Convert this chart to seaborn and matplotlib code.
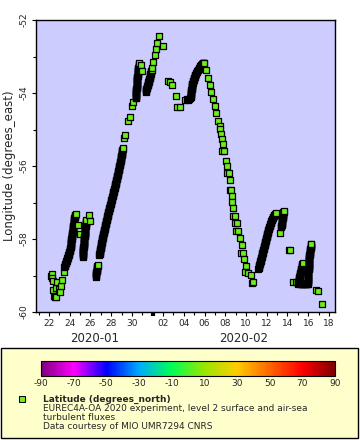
import numpy as np
import pandas as pd
import matplotlib
matplotlib.use("Agg")
import matplotlib.pyplot as plt
import matplotlib.dates as mdates
import matplotlib.transforms as mtransforms
from matplotlib.colors import LinearSegmentedColormap, Normalize
from matplotlib.cm import ScalarMappable
from matplotlib.patches import Rectangle
import seaborn as sns

# ship track, (day of January 2020 (32 = Feb 1), longitude degrees_east), in time order
track_jan22 = [
    (22.18, -59.00), (22.26, -58.96), (22.30, -59.08), (22.36, -59.15), (22.42, -59.40), (22.48, -59.55),
    (22.55, -59.60), (22.66, -59.58), (22.72, -59.35), (22.80, -59.17), (22.95, -59.38), (23.06, -59.44),
    (23.16, -59.28), (23.25, -59.12), (23.42, -58.90),
    (23.49, -58.77), (23.51, -58.75), (23.54, -58.73), (23.56, -58.71), (23.58, -58.69), (23.61, -58.67),
    (23.63, -58.65), (23.65, -58.63), (23.68, -58.61), (23.70, -58.59), (23.72, -58.57), (23.75, -58.55),
    (23.77, -58.53), (23.79, -58.51), (23.82, -58.49), (23.84, -58.47), (23.86, -58.45), (23.89, -58.43),
    (23.91, -58.41), (23.93, -58.39), (23.96, -58.37), (23.98, -58.35), (24.01, -58.33), (24.03, -58.31),
    (24.05, -58.29), (24.06, -58.27), (24.07, -58.25), (24.08, -58.23), (24.09, -58.21), (24.10, -58.19),
    (24.10, -58.17), (24.11, -58.15), (24.12, -58.13), (24.13, -58.11), (24.14, -58.09), (24.15, -58.07),
    (24.16, -58.05), (24.17, -58.03), (24.17, -58.01), (24.18, -57.99), (24.19, -57.97), (24.20, -57.95),
    (24.21, -57.93), (24.22, -57.91), (24.23, -57.89), (24.24, -57.87), (24.24, -57.85),
    (24.26, -57.83), (24.27, -57.81), (24.28, -57.79), (24.29, -57.77), (24.30, -57.75), (24.31, -57.73),
    (24.32, -57.71), (24.33, -57.69), (24.34, -57.67), (24.35, -57.65), (24.36, -57.63), (24.37, -57.61),
    (24.38, -57.59), (24.39, -57.57), (24.40, -57.55), (24.41, -57.53), (24.42, -57.51), (24.43, -57.49),
    (24.44, -57.47), (24.45, -57.45), (24.46, -57.43), (24.47, -57.41), (24.48, -57.39), (24.50, -57.37),
    (24.52, -57.35), (24.55, -57.33), (24.57, -57.32),
    (24.80, -57.62), (24.96, -57.86),
]

track_jan25 = [
    (25.25, -58.49), (25.26, -58.47), (25.26, -58.45), (25.27, -58.43), (25.28, -58.41), (25.28, -58.39),
    (25.29, -58.37), (25.29, -58.35), (25.30, -58.33), (25.31, -58.31), (25.31, -58.29), (25.32, -58.27),
    (25.33, -58.25), (25.33, -58.23), (25.34, -58.21), (25.35, -58.19), (25.35, -58.17), (25.36, -58.15),
    (25.37, -58.13), (25.37, -58.11), (25.38, -58.09), (25.38, -58.07), (25.39, -58.05), (25.40, -58.03),
    (25.40, -58.01), (25.41, -57.99), (25.42, -57.97), (25.42, -57.95), (25.43, -57.93), (25.44, -57.91),
    (25.44, -57.89), (25.45, -57.87), (25.45, -57.85), (25.46, -57.83), (25.47, -57.81), (25.47, -57.79),
    (25.48, -57.77), (25.49, -57.75), (25.49, -57.73), (25.50, -57.71), (25.51, -57.69), (25.51, -57.67),
    (25.52, -57.65), (25.53, -57.63), (25.53, -57.61), (25.54, -57.59), (25.54, -57.57), (25.55, -57.55),
    (25.56, -57.53), (25.56, -57.51), (25.57, -57.49),
    (25.86, -57.34), (25.95, -57.50),
]

track_jan26 = [
    (26.50, -59.03), (26.51, -59.01), (26.53, -58.99), (26.54, -58.97), (26.55, -58.95), (26.56, -58.93),
    (26.58, -58.91), (26.59, -58.89), (26.60, -58.87), (26.61, -58.85), (26.63, -58.83), (26.64, -58.81),
    (26.65, -58.79), (26.66, -58.77), (26.68, -58.75), (26.69, -58.73), (26.70, -58.71),
    (26.85, -58.44), (26.86, -58.42), (26.88, -58.40), (26.89, -58.38), (26.90, -58.36), (26.91, -58.34),
    (26.93, -58.32), (26.94, -58.30), (26.95, -58.28), (26.97, -58.26), (26.98, -58.24), (26.99, -58.22),
    (27.00, -58.20), (27.02, -58.18), (27.03, -58.16), (27.04, -58.14), (27.05, -58.12), (27.07, -58.10),
    (27.08, -58.08), (27.10, -58.06), (27.11, -58.04), (27.13, -58.02), (27.14, -58.00), (27.16, -57.98),
    (27.17, -57.96), (27.19, -57.94), (27.20, -57.92), (27.22, -57.90), (27.24, -57.88), (27.25, -57.86),
    (27.27, -57.84), (27.28, -57.82), (27.30, -57.80), (27.31, -57.78), (27.33, -57.76), (27.34, -57.74),
    (27.36, -57.72), (27.37, -57.70),
    (27.39, -57.68), (27.41, -57.66), (27.42, -57.64), (27.44, -57.62), (27.46, -57.60), (27.47, -57.58),
    (27.49, -57.56), (27.51, -57.54), (27.52, -57.52), (27.54, -57.50), (27.56, -57.48), (27.57, -57.46),
    (27.59, -57.44), (27.61, -57.42), (27.62, -57.40), (27.64, -57.38), (27.66, -57.36), (27.67, -57.34),
    (27.69, -57.32), (27.71, -57.30), (27.72, -57.28), (27.74, -57.26), (27.76, -57.24), (27.77, -57.22),
    (27.79, -57.20), (27.81, -57.18), (27.83, -57.16), (27.84, -57.14), (27.86, -57.12), (27.88, -57.10),
    (27.90, -57.08), (27.92, -57.06), (27.94, -57.04), (27.95, -57.02), (27.97, -57.00), (27.99, -56.98),
    (28.01, -56.96), (28.03, -56.94), (28.05, -56.92), (28.06, -56.90), (28.08, -56.88), (28.10, -56.86),
    (28.12, -56.84), (28.14, -56.82), (28.16, -56.80), (28.17, -56.78),
    (28.19, -56.76), (28.21, -56.74), (28.22, -56.72), (28.24, -56.70), (28.26, -56.68), (28.27, -56.66),
    (28.29, -56.64), (28.31, -56.62), (28.32, -56.60), (28.34, -56.58), (28.36, -56.56), (28.37, -56.54),
    (28.39, -56.52), (28.41, -56.50), (28.42, -56.48), (28.44, -56.46), (28.46, -56.44), (28.47, -56.42),
    (28.49, -56.40), (28.51, -56.38), (28.52, -56.36), (28.54, -56.34), (28.56, -56.32), (28.57, -56.30),
    (28.59, -56.28), (28.60, -56.26), (28.62, -56.24), (28.63, -56.22), (28.65, -56.20), (28.66, -56.18),
    (28.68, -56.16), (28.69, -56.14), (28.71, -56.12), (28.72, -56.10), (28.74, -56.08), (28.75, -56.06),
    (28.76, -56.04), (28.78, -56.02), (28.79, -56.00), (28.81, -55.98), (28.82, -55.96), (28.84, -55.94),
    (28.85, -55.92), (28.87, -55.90), (28.88, -55.88), (28.90, -55.86),
    (28.91, -55.84), (28.92, -55.82), (28.94, -55.80), (28.95, -55.78), (28.96, -55.76), (28.97, -55.74),
    (28.99, -55.72), (29.00, -55.70), (29.01, -55.68), (29.02, -55.66), (29.04, -55.64), (29.05, -55.62),
    (29.06, -55.60), (29.07, -55.58), (29.09, -55.56), (29.10, -55.54), (29.11, -55.52),
    (29.28, -55.23), (29.30, -55.15), (29.59, -54.76), (29.78, -54.66), (29.97, -54.36), (30.07, -54.25),
]

track_jan30 = [
    (30.36, -54.15), (30.37, -54.13), (30.37, -54.11), (30.38, -54.09), (30.38, -54.07), (30.39, -54.05),
    (30.40, -54.03), (30.40, -54.01), (30.41, -53.99), (30.42, -53.97), (30.42, -53.95), (30.43, -53.93),
    (30.43, -53.91), (30.44, -53.89), (30.45, -53.87), (30.45, -53.85), (30.46, -53.83), (30.47, -53.81),
    (30.47, -53.79), (30.48, -53.77), (30.48, -53.75), (30.49, -53.73), (30.49, -53.71), (30.50, -53.69),
    (30.50, -53.67), (30.51, -53.65), (30.51, -53.63), (30.52, -53.61), (30.52, -53.59), (30.53, -53.57),
    (30.53, -53.55), (30.54, -53.53), (30.54, -53.51), (30.55, -53.49), (30.55, -53.47), (30.56, -53.45),
    (30.57, -53.43), (30.58, -53.41), (30.59, -53.39), (30.60, -53.37), (30.61, -53.35), (30.62, -53.33),
    (30.63, -53.31), (30.64, -53.29), (30.65, -53.27), (30.66, -53.25), (30.66, -53.23), (30.67, -53.21),
    (30.68, -53.19),
    (30.84, -53.22), (30.97, -53.40),
    (31.31, -53.97), (31.33, -53.95), (31.35, -53.93), (31.38, -53.91), (31.40, -53.89), (31.42, -53.87),
    (31.44, -53.85), (31.46, -53.83), (31.48, -53.81), (31.51, -53.79), (31.53, -53.77), (31.55, -53.75),
    (31.57, -53.73), (31.59, -53.71), (31.62, -53.69), (31.64, -53.67), (31.66, -53.65), (31.68, -53.63),
    (31.69, -53.61), (31.71, -53.59), (31.72, -53.57), (31.74, -53.55), (31.76, -53.53), (31.77, -53.51),
    (31.79, -53.49), (31.81, -53.47), (31.83, -53.45), (31.84, -53.43), (31.86, -53.41), (31.88, -53.39),
    (31.90, -53.37),
    (31.96, -53.32), (32.08, -53.15), (32.22, -52.96), (32.30, -52.80), (32.39, -52.64), (32.58, -52.44),
    (32.96, -52.70),
    (33.52, -53.66), (33.67, -53.69), (33.83, -53.78), (34.22, -54.08), (34.30, -54.38), (34.63, -54.38),
]

track_feb04 = [
    (35.07, -54.19), (35.28, -54.17), (35.40, -54.20), (35.50, -54.17), (35.58, -54.13), (35.66, -54.10),
    (35.67, -54.08), (35.68, -54.06), (35.69, -54.04), (35.70, -54.02), (35.70, -54.00), (35.71, -53.98),
    (35.72, -53.96), (35.73, -53.94), (35.74, -53.92), (35.75, -53.90), (35.76, -53.88), (35.77, -53.86),
    (35.78, -53.84), (35.79, -53.82), (35.79, -53.80), (35.80, -53.78), (35.81, -53.76), (35.82, -53.74),
    (35.85, -53.72), (35.87, -53.70), (35.90, -53.68), (35.92, -53.66), (35.95, -53.64), (35.97, -53.62),
    (36.00, -53.60), (36.02, -53.58), (36.05, -53.56), (36.08, -53.54), (36.10, -53.52), (36.13, -53.50),
    (36.15, -53.48), (36.18, -53.46), (36.23, -53.43), (36.28, -53.41), (36.33, -53.38), (36.38, -53.36),
    (36.43, -53.33), (36.48, -53.31), (36.53, -53.28), (36.58, -53.26), (36.63, -53.23), (36.68, -53.22),
    (36.72, -53.21), (36.77, -53.20), (36.81, -53.19), (36.86, -53.18), (36.90, -53.18), (36.94, -53.17),
    (36.98, -53.17),
]

track_feb06 = [
    (37.14, -53.37), (37.33, -53.59), (37.53, -53.78), (37.62, -53.97), (37.79, -54.16), (37.98, -54.36),
    (38.10, -54.55), (38.30, -54.77), (38.46, -54.90), (38.49, -54.99), (38.59, -55.12), (38.68, -55.26),
    (38.78, -55.40), (38.69, -55.59), (38.88, -55.59), (39.07, -55.86), (39.16, -56.00), (39.16, -56.19),
    (39.36, -56.19), (39.45, -56.38), (39.41, -56.66), (39.55, -56.66), (39.62, -56.82), (39.62, -56.98),
    (39.71, -57.15), (39.71, -57.37), (39.91, -57.37), (39.91, -57.55), (40.10, -57.55), (40.03, -57.77),
    (40.23, -57.77), (40.39, -57.96), (40.58, -58.16), (40.52, -58.38), (40.71, -58.38), (40.83, -58.55),
    (40.97, -58.74), (40.95, -58.90), (41.16, -58.92), (41.45, -58.99), (41.58, -59.21), (41.70, -59.17),
]

track_feb11 = [
    (42.20, -58.81), (42.22, -58.79), (42.24, -58.77), (42.26, -58.75), (42.28, -58.73), (42.30, -58.71),
    (42.31, -58.69), (42.33, -58.67), (42.35, -58.65), (42.37, -58.63), (42.39, -58.61), (42.41, -58.59),
    (42.43, -58.57), (42.44, -58.55), (42.46, -58.53), (42.48, -58.51), (42.50, -58.49), (42.52, -58.47),
    (42.54, -58.45), (42.56, -58.43), (42.57, -58.41), (42.59, -58.39), (42.61, -58.37), (42.63, -58.35),
    (42.65, -58.33), (42.66, -58.31), (42.68, -58.29), (42.70, -58.27), (42.72, -58.25), (42.74, -58.23),
    (42.75, -58.21), (42.77, -58.19), (42.79, -58.17), (42.81, -58.15), (42.82, -58.13), (42.84, -58.11),
    (42.86, -58.09), (42.88, -58.07), (42.89, -58.05), (42.91, -58.03), (42.93, -58.01), (42.95, -57.99),
    (42.96, -57.97), (42.98, -57.95), (43.00, -57.93), (43.02, -57.91), (43.03, -57.89), (43.05, -57.87),
    (43.07, -57.85), (43.08, -57.83), (43.10, -57.81), (43.12, -57.79), (43.14, -57.77), (43.15, -57.75),
    (43.18, -57.73), (43.20, -57.71), (43.23, -57.69), (43.25, -57.67), (43.27, -57.65), (43.30, -57.63),
    (43.32, -57.61), (43.35, -57.59), (43.37, -57.57), (43.40, -57.55), (43.42, -57.53), (43.45, -57.51),
    (43.47, -57.49), (43.50, -57.47), (43.54, -57.45), (43.58, -57.43), (43.62, -57.41), (43.65, -57.39),
    (43.69, -57.37), (43.73, -57.35), (43.77, -57.33), (43.81, -57.31), (43.86, -57.29),
    (44.28, -57.83),
    (44.40, -57.67), (44.41, -57.65), (44.42, -57.63), (44.43, -57.61), (44.44, -57.59), (44.45, -57.57),
    (44.46, -57.55), (44.47, -57.53), (44.48, -57.51), (44.49, -57.49), (44.50, -57.47), (44.51, -57.45),
    (44.52, -57.43), (44.53, -57.41), (44.54, -57.39), (44.56, -57.37), (44.57, -57.35), (44.58, -57.33),
    (44.59, -57.31), (44.60, -57.29), (44.61, -57.27), (44.62, -57.25), (44.63, -57.23),
    (45.13, -58.31), (45.21, -58.30),
]

track_feb14 = [
    (45.53, -59.19), (45.79, -59.17),
    (46.01, -59.23), (46.03, -59.21), (46.04, -59.19), (46.06, -59.17), (46.07, -59.15), (46.09, -59.13),
    (46.11, -59.11), (46.12, -59.09), (46.14, -59.07), (46.15, -59.05), (46.17, -59.03), (46.19, -59.01),
    (46.20, -58.99), (46.22, -58.97), (46.23, -58.95), (46.25, -58.93), (46.27, -58.91), (46.28, -58.89),
    (46.30, -58.87), (46.31, -58.85), (46.33, -58.83), (46.35, -58.81), (46.36, -58.79), (46.38, -58.77),
    (46.39, -58.75), (46.41, -58.73), (46.43, -58.71), (46.44, -58.69), (46.46, -58.67),
    (46.20, -59.23), (46.28, -59.23), (46.36, -59.23), (46.44, -59.23), (46.52, -59.23), (46.60, -59.23),
    (46.68, -59.23), (46.76, -59.23), (46.84, -59.23), (46.92, -59.23), (46.98, -59.23),
    (46.98, -59.21), (46.98, -59.19), (46.99, -59.17), (46.99, -59.15), (46.99, -59.13), (46.99, -59.11),
    (46.99, -59.09), (47.00, -59.07), (47.00, -59.05), (47.00, -59.03), (47.00, -59.01), (47.01, -58.99),
    (47.01, -58.97), (47.01, -58.95), (47.01, -58.93), (47.01, -58.91), (47.01, -58.89), (47.02, -58.87),
    (47.02, -58.85), (47.03, -58.83), (47.03, -58.81), (47.04, -58.79), (47.04, -58.77), (47.05, -58.75),
    (47.05, -58.73), (47.06, -58.71), (47.06, -58.69), (47.07, -58.67), (47.07, -58.65), (47.08, -58.63),
    (47.08, -58.61), (47.09, -58.59), (47.09, -58.57), (47.10, -58.55), (47.10, -58.53), (47.11, -58.51),
    (47.11, -58.49), (47.12, -58.47), (47.12, -58.45), (47.13, -58.43), (47.14, -58.41), (47.15, -58.39),
    (47.16, -58.37), (47.17, -58.35), (47.18, -58.33), (47.19, -58.31), (47.20, -58.29), (47.21, -58.27),
    (47.22, -58.25), (47.23, -58.23), (47.24, -58.21), (47.25, -58.19), (47.26, -58.17), (47.27, -58.15),
    (47.27, -58.14),
    (47.75, -59.40), (47.91, -59.42), (48.30, -59.78),
]

# colour bar (latitude palette)
cbar_ticks = [-90, -70, -50, -30, -10, 10, 30, 50, 70, 90]
palette = ["#800080", "#ff00ff", "#0000ff", "#00aaff", "#00ff55",
           "#99e600", "#ffcc00", "#ff6600", "#ff0000", "#800000"]

legend_title = "Latitude (degrees_north)"
legend_lines = ["EUREC4A-OA 2020 experiment, level 2 surface and air-sea",
                "turbulent fluxes",
                "Data courtesy of MIO UMR7294 CNRS"]

points = (track_jan22 + track_jan25 + track_jan26 + track_jan30 + track_feb04
          + track_feb06 + track_feb11 + track_feb14)
df = pd.DataFrame(points, columns=["day", "lon"])
df["time"] = pd.Timestamp("2019-12-31") + pd.to_timedelta(df["day"], unit="D")

sns.set_style("ticks")
plt.rcParams["font.family"] = ["DejaVu Sans"]
plt.rcParams["axes.unicode_minus"] = False

marker_color = "#6cf01a"

fig = plt.figure(figsize=(3.6, 4.4), dpi=100)

# legend panel (behind everything)
fig.patches.append(Rectangle((0.003, 0.005), 0.992, 0.204, transform=fig.transFigure,
                             facecolor="#ffffcc", edgecolor="black", linewidth=1.0, zorder=-10))

ax = fig.add_axes([0.1, 0.2909, 0.8306, 0.6636])
ax.set_facecolor("#ccccff")

sns.scatterplot(data=df, x="time", y="lon", ax=ax, marker="s", s=20,
                color=marker_color, edgecolor="black", linewidth=0.9, legend=False)

t0 = pd.Timestamp("2020-01-20 18:00")
t1 = pd.Timestamp("2020-02-18 14:00")
ax.set_xlim(t0, t1)
ax.set_ylim(-60, -52)

ax.xaxis.set_major_locator(mdates.DayLocator(bymonthday=range(2, 32, 2)))
ax.xaxis.set_minor_locator(mdates.DayLocator())
ax.xaxis.set_major_formatter(mdates.DateFormatter("%d"))
ax.set_yticks([-60, -58, -56, -54, -52])
ax.set_yticks(np.arange(-60, -51, 1), minor=True)
ax.set_yticklabels(["-60", "-58", "-56", "-54", "-52"], rotation=90, va="center")

ax.tick_params(axis="both", which="major", length=3, width=0.8, labelsize=6.5, pad=2, color="black")
ax.tick_params(axis="both", which="minor", length=2, width=0.8, color="black")
ax.set_xlabel("")
ax.set_ylabel("Longitude (degrees_east)", fontsize=8.5, labelpad=3)
for sp in ax.spines.values():
    sp.set_color("black")
    sp.set_linewidth(1.0)

# month boundary marker and month labels
trans = mtransforms.blended_transform_factory(ax.transData, ax.transAxes)
feb1 = mdates.date2num(pd.Timestamp("2020-02-01"))
ax.plot([feb1, feb1], [0, -0.014], transform=trans, color="black", lw=3,
        solid_capstyle="butt", clip_on=False)
x0, x1 = mdates.date2num(t0), mdates.date2num(t1)
ax.text((x0 + feb1) / 2, -0.09, "2020-01", transform=trans, ha="center", va="center", fontsize=8.5)
ax.text((feb1 + x1) / 2, -0.09, "2020-02", transform=trans, ha="center", va="center", fontsize=8.5)

cmap = LinearSegmentedColormap.from_list("lat", palette)
cax = fig.add_axes([0.1139, 0.1455, 0.8167, 0.0341])
cb = fig.colorbar(ScalarMappable(norm=Normalize(-90, 90), cmap=cmap), cax=cax,
                  orientation="horizontal", ticks=cbar_ticks)
cb.outline.set_linewidth(0.8)
cb.outline.set_edgecolor("black")
cax.tick_params(length=0, labelsize=6.5, pad=2)

fig.add_artist(plt.Line2D([0.061], [0.093], marker="s", markersize=4.6, color=marker_color,
                          markeredgecolor="black", markeredgewidth=0.75, linestyle="none",
                          transform=fig.transFigure))
fig.text(0.119, 0.093, legend_title, fontsize=6.5, fontweight="bold", va="center", ha="left")
for i, line in enumerate(legend_lines):
    fig.text(0.119, 0.072 - i * 0.0205, line, fontsize=6.5, va="center", ha="left")

fig.savefig("out.png", dpi=100)
